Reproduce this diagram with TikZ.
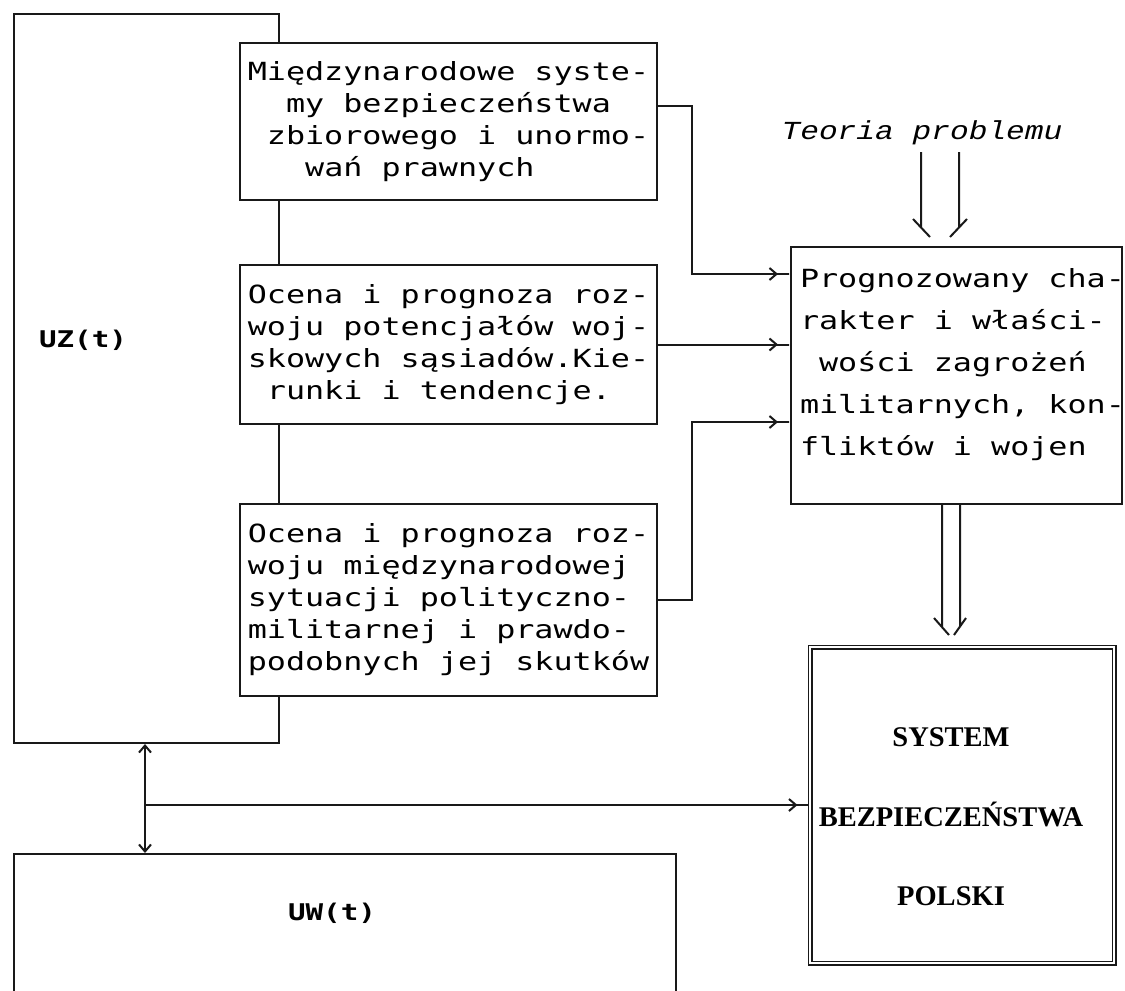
\documentclass[tikz,border=0pt]{standalone}
\usepackage{fontspec}
\newfontfamily\igla[FakeStretch=1.27]{DejaVu Sans Mono}
\newfontfamily\kursywa[FakeStretch=1.2]{Liberation Mono}
\newfontfamily\nlq{Liberation Serif}
\usetikzlibrary{arrows.meta}
\tikzset{
	>={Straight Barb[length=7pt,width=12pt]},
	blok/.style={
		rectangle,
		draw=black!90, line width=2pt,
		fill=white,
		inner sep=0pt,
		anchor=north west,
		font=\igla\fontsize{25}{32}\selectfont,
		align=left},
	ramka/.style={
		rectangle,
		draw=black!90, line width=1.4pt,
		double, double distance=2.4pt,
		fill=white,
		inner sep=0pt,
		anchor=north west},
	etykieta/.style={font=\igla\bfseries\fontsize{23}{26}\selectfont, inner sep=0pt},
	tytul/.style={font=\kursywa\itshape\fontsize{26}{30}\selectfont, inner sep=0pt},
	linia/.style={draw=black!90, line width=2pt},
	% grot z krotka kreska przed ramka
	strz/.style={linia, -{Straight Barb[length=7pt,width=12pt] Rectangle[length=12pt,width=2pt]}},
	strz2/.style={linia, <->},
}
\begin{document}
\begin{tikzpicture}[x=1pt, y=-1pt]
	\useasboundingbox (0,0) rectangle (1125,991);
	\clip (0,0) rectangle (1125,991);
	% uklad zewnetrzny i wewnetrzny
	\node[blok, minimum width=265pt, minimum height=729pt] (uz) at (13,13) {};
	\node[etykieta] (uzlab) at (83,340) {UZ(t)};
	\node[blok, minimum width=662pt, minimum height=200pt] (uw) at (13,853) {};
	\node[etykieta] (uwlab) at (332,913) {UW(t)};
	% bloki oceny
	\node[blok, minimum width=417pt, minimum height=157pt] (mis) at (239,42)
		{Międzynarodowe syste-\\\phantom{xx}my bezpieczeństwa\\\phantom{x}zbiorowego i unormo-\\\phantom{xxx}wań prawnych};
	\node[blok, minimum width=417pt, minimum height=159pt] (pot) at (239,264)
		{Ocena i prognoza roz-\\woju potencjałów woj-\\skowych sąsiadów.Kie-\\\phantom{x}runki i tendencje.};
	\node[blok, minimum width=417pt, minimum height=192pt] (syt) at (239,503)
		{Ocena i prognoza roz-\\woju międzynarodowej\\sytuacji polityczno-\\militarnej i prawdo-\\podobnych jej skutków};
	\node[blok, minimum width=331pt, minimum height=257pt] (prog) at (790,246) {};
	\node[blok, draw=none, fill=none, anchor=west, font=\igla\fontsize{25}{42}\selectfont] (progtxt) at (799,365)
		{Prognozowany cha-\\rakter i właści-\\\phantom{x}wości zagrożeń\\militarnych, kon-\\fliktów i wojen};
	\node[tytul] (teoria) at (922,133) {Teoria problemu};
	% system
	\node[ramka, minimum width=304pt, minimum height=316pt] (sys) at (809.5,646.5) {};
	\node[align=center, inner sep=0pt, font=\nlq\bfseries\fontsize{28.5}{79.5}\selectfont] (systxt) at (951,817)
		{SYSTEM\\BEZPIECZEŃSTWA\\POLSKI};
	% polaczenia
	\coordinate (k1) at (692,274);
	\coordinate (k3) at (692,422);
	\draw[strz] ([yshift=15.5pt]mis.east) -| (k1) -- (k1 -| prog.west);
	\draw[strz] (pot.east) -- (pot.east -| prog.west);
	\draw[strz] (syt.east) -| (k3) -- (k3 -| prog.west);
	% podwojne strzalki
	\coordinate (t1) at (940,152);
	\draw[linia] (t1) ++(-19,0) -- ++(0,76) ++(-8,-9) -- ++(17,18);
	\draw[linia] (t1) ++(19,0) -- ++(0,76) ++(8,-9) -- ++(-17,18);
	\coordinate (p1) at ([xshift=-5.5pt]prog.south);
	\draw[linia] (p1) ++(-9,0) -- ++(0,122) ++(-8,-9) -- ++(15,17);
	\draw[linia] (p1) ++(9,0) -- ++(0,122) ++(6,-9) -- ++(-12,17);
	\coordinate (wezel) at (145,805);
	\draw[strz2] (wezel |- uz.south) -- (wezel |- uw.north);
	\draw[strz] (wezel) -- (wezel -| sys.west);
\end{tikzpicture}
\end{document}
